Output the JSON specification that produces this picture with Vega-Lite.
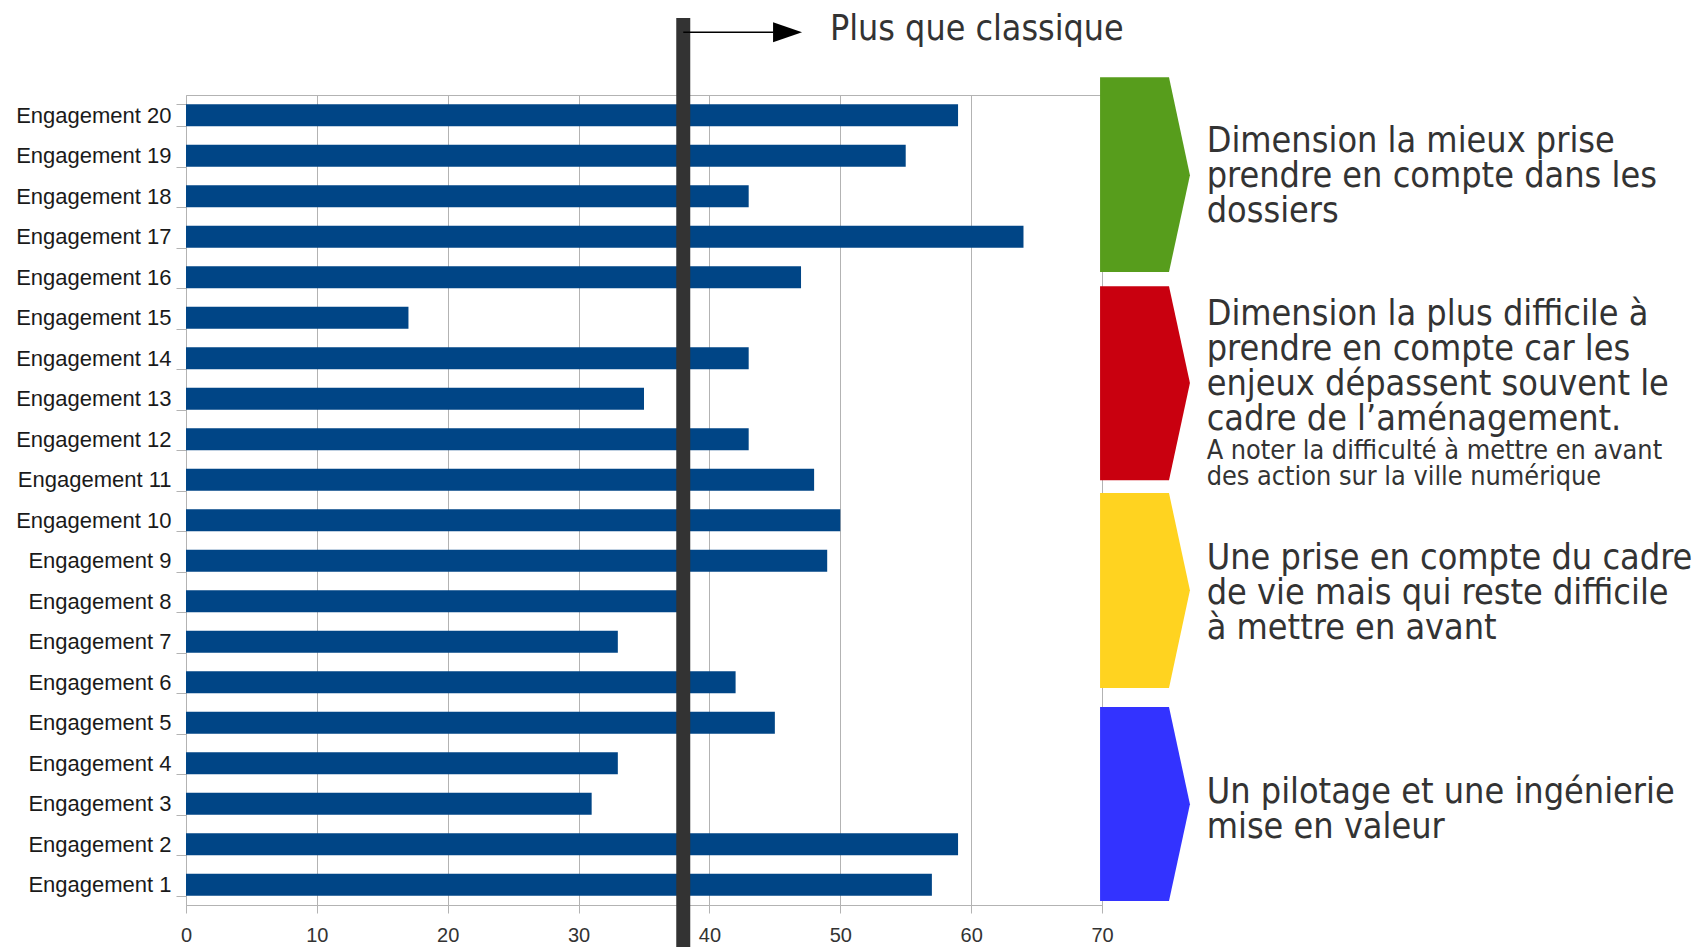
{
  "$schema": "https://vega.github.io/schema/vega-lite/v6.json",
  "width": 916,
  "height": 810,
  "autosize": {"type": "none"},
  "padding": {"left": 186, "top": 95, "right": 596, "bottom": 42},
  "background": "white",
  "config": {
    "view": {"stroke": "#b3b3b3", "strokeWidth": 1},
    "axisX": {
      "grid": true, "gridColor": "#b3b3b3", "gridWidth": 1,
      "domainColor": "#b3b3b3", "tickColor": "#b3b3b3", "tickSize": 8,
      "tickCount": 7, "labelFlush": false,
      "labelFont": "Liberation Sans", "labelFontSize": 20, "labelColor": "#333333", "labelPadding": 12
    },
    "axisY": {
      "grid": false, "domain": false, "tickBand": "extent",
      "tickColor": "#b3b3b3", "tickSize": 10,
      "labelFont": "Liberation Sans", "labelFontSize": 22, "labelColor": "#1a1a1a", "labelPadding": 5
    }
  },
  "datasets": {
    "bars": [
      {"engagement": "Engagement 20", "score": 59},
      {"engagement": "Engagement 19", "score": 55},
      {"engagement": "Engagement 18", "score": 43},
      {"engagement": "Engagement 17", "score": 64},
      {"engagement": "Engagement 16", "score": 47},
      {"engagement": "Engagement 15", "score": 17},
      {"engagement": "Engagement 14", "score": 43},
      {"engagement": "Engagement 13", "score": 35},
      {"engagement": "Engagement 12", "score": 43},
      {"engagement": "Engagement 11", "score": 48},
      {"engagement": "Engagement 10", "score": 50},
      {"engagement": "Engagement 9", "score": 49},
      {"engagement": "Engagement 8", "score": 38},
      {"engagement": "Engagement 7", "score": 33},
      {"engagement": "Engagement 6", "score": 42},
      {"engagement": "Engagement 5", "score": 45},
      {"engagement": "Engagement 4", "score": 33},
      {"engagement": "Engagement 3", "score": 31},
      {"engagement": "Engagement 2", "score": 59},
      {"engagement": "Engagement 1", "score": 57}
    ],
    "threshold": [{"x": 38, "y": -1.05, "y2": 21.9}],
    "arrow": [{"x": 38, "x2": 44.9, "y": 21.55}],
    "arrowhead": [{"x": 45.97, "y": 21.55}],
    "title": [{"x": 49.21, "y": 21.63, "label": "Plus que classique"}],
    "chevrons": [
      {"group": "green", "y": 20.44, "x": 69.85, "x2": 75.12},
      {"group": "green", "y": 18.02, "x": 69.85, "x2": 76.72},
      {"group": "green", "y": 15.63, "x": 69.85, "x2": 75.12},
      {"group": "red", "y": 15.28, "x": 69.85, "x2": 75.12},
      {"group": "red", "y": 12.89, "x": 69.85, "x2": 76.72},
      {"group": "red", "y": 10.49, "x": 69.85, "x2": 75.12},
      {"group": "yellow", "y": 10.17, "x": 69.85, "x2": 75.12},
      {"group": "yellow", "y": 7.77, "x": 69.85, "x2": 76.72},
      {"group": "yellow", "y": 5.36, "x": 69.85, "x2": 75.12},
      {"group": "blue", "y": 4.89, "x": 69.85, "x2": 75.12},
      {"group": "blue", "y": 2.49, "x": 69.85, "x2": 76.72},
      {"group": "blue", "y": 0.10, "x": 69.85, "x2": 75.12}
    ],
    "notes": [
      {"x": 78.0, "y": 18.87, "text": ["Dimension la mieux prise", "prendre en compte dans les", "dossiers"]},
      {"x": 78.0, "y": 14.59, "text": ["Dimension la plus difficile à", "prendre en compte car les", "enjeux dépassent souvent le", "cadre de l’aménagement."]},
      {"x": 78.0, "y": 8.57, "text": ["Une prise en compte du cadre", "de vie mais qui reste difficile", "à mettre en avant"]},
      {"x": 78.0, "y": 2.80, "text": ["Un pilotage et une ingénierie", "mise en valeur"]}
    ],
    "smallnotes": [
      {"x": 78.0, "y": 11.22, "text": ["A noter la difficulté à mettre en avant", "des action sur la ville numérique"]}
    ]
  },
  "layer": [
    {
      "data": {"name": "bars"},
      "mark": {"type": "bar", "color": "#004586"},
      "encoding": {
        "y": {"field": "engagement", "type": "nominal", "sort": null, "title": null,
              "scale": {"paddingInner": 0.46, "paddingOuter": 0.23}},
        "x": {"field": "score", "type": "quantitative", "title": null, "scale": {"domain": [0, 70]}}
      }
    },
    {
      "layer": [
        {
          "data": {"name": "threshold"},
          "mark": {"type": "rule", "color": "#333333", "strokeWidth": 14},
          "encoding": {
            "x": {"field": "x", "type": "quantitative", "title": null, "scale": {"domain": [0, 70]}},
            "y": {"field": "y", "type": "quantitative", "axis": null, "scale": {"domain": [0, 20]}},
            "y2": {"field": "y2"}
          }
        },
        {
          "data": {"name": "arrow"},
          "mark": {"type": "rule", "color": "#000000", "strokeWidth": 1.5},
          "encoding": {
            "x": {"field": "x", "type": "quantitative", "title": null, "scale": {"domain": [0, 70]}},
            "x2": {"field": "x2"},
            "y": {"field": "y", "type": "quantitative", "axis": null, "scale": {"domain": [0, 20]}}
          }
        },
        {
          "data": {"name": "arrowhead"},
          "mark": {"type": "point", "shape": "M-1,-0.69L1,0L-1,0.69Z", "size": 841, "filled": true, "color": "#000000", "opacity": 1, "strokeWidth": 0},
          "encoding": {
            "x": {"field": "x", "type": "quantitative", "title": null, "scale": {"domain": [0, 70]}},
            "y": {"field": "y", "type": "quantitative", "axis": null, "scale": {"domain": [0, 20]}}
          }
        },
        {
          "data": {"name": "title"},
          "mark": {"type": "text", "align": "left", "baseline": "middle", "font": "DejaVu Sans Condensed", "fontSize": 35.5, "color": "#333333"},
          "encoding": {
            "x": {"field": "x", "type": "quantitative", "title": null, "scale": {"domain": [0, 70]}},
            "y": {"field": "y", "type": "quantitative", "axis": null, "scale": {"domain": [0, 20]}},
            "text": {"field": "label"}
          }
        },
        {
          "data": {"name": "chevrons"},
          "mark": {"type": "area", "orient": "horizontal", "opacity": 1},
          "encoding": {
            "y": {"field": "y", "type": "quantitative", "axis": null, "scale": {"domain": [0, 20]}},
            "x": {"field": "x", "type": "quantitative", "title": null, "stack": null, "scale": {"domain": [0, 70]}},
            "x2": {"field": "x2"},
            "color": {"field": "group", "type": "nominal", "legend": null,
                      "scale": {"domain": ["green", "red", "yellow", "blue"], "range": ["#579d1c", "#c9000f", "#ffd320", "#3333ff"]}}
          }
        },
        {
          "data": {"name": "notes"},
          "mark": {"type": "text", "align": "left", "baseline": "middle", "font": "DejaVu Sans Condensed", "fontSize": 35.7, "lineHeight": 35, "color": "#333333"},
          "encoding": {
            "x": {"field": "x", "type": "quantitative", "title": null, "scale": {"domain": [0, 70]}},
            "y": {"field": "y", "type": "quantitative", "axis": null, "scale": {"domain": [0, 20]}},
            "text": {"field": "text"}
          }
        },
        {
          "data": {"name": "smallnotes"},
          "mark": {"type": "text", "align": "left", "baseline": "middle", "font": "DejaVu Sans Condensed", "fontSize": 26.8, "lineHeight": 26, "color": "#333333"},
          "encoding": {
            "x": {"field": "x", "type": "quantitative", "title": null, "scale": {"domain": [0, 70]}},
            "y": {"field": "y", "type": "quantitative", "axis": null, "scale": {"domain": [0, 20]}},
            "text": {"field": "text"}
          }
        }
      ]
    }
  ],
  "resolve": {"scale": {"y": "independent"}}
}
